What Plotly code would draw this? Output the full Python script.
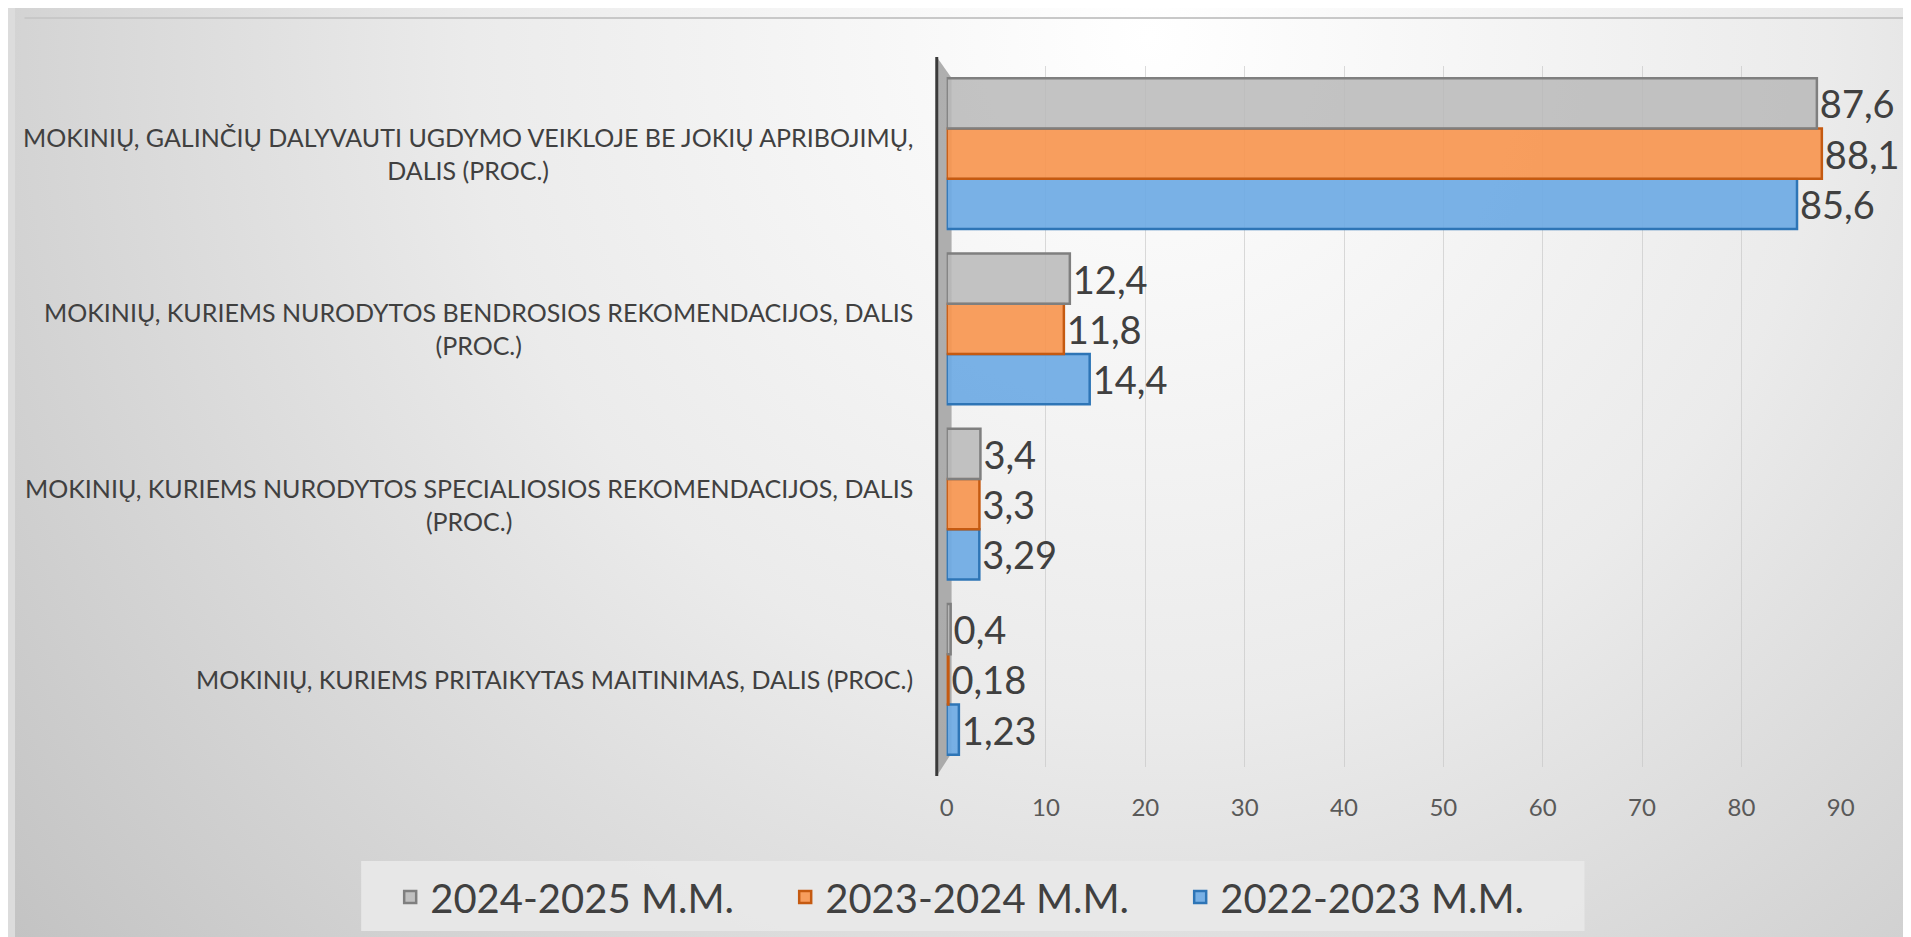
import base64
import plotly.graph_objects as go

categories = [
    "MOKINIŲ, GALINČIŲ DALYVAUTI UGDYMO VEIKLOJE BE JOKIŲ APRIBOJIMŲ,<br>DALIS (PROC.)",
    "MOKINIŲ, KURIEMS NURODYTOS BENDROSIOS REKOMENDACIJOS, DALIS<br>(PROC.)",
    "MOKINIŲ, KURIEMS NURODYTOS SPECIALIOSIOS REKOMENDACIJOS, DALIS<br>(PROC.)",
    "MOKINIŲ, KURIEMS PRITAIKYTAS MAITINIMAS, DALIS (PROC.)",
]
series_names = ["2022-2023 M.M.", "2023-2024 M.M.", "2024-2025 M.M."]
values_2022_2023 = [85.6, 14.4, 3.29, 1.23]
values_2023_2024 = [88.1, 11.8, 3.3, 0.18]
values_2024_2025 = [87.6, 12.4, 3.4, 0.4]
value_labels_2022_2023 = ["85,6", "14,4", "3,29", "1,23"]
value_labels_2023_2024 = ["88,1", "11,8", "3,3", "0,18"]
value_labels_2024_2025 = ["87,6", "12,4", "3,4", "0,4"]
x_ticks = [0, 10, 20, 30, 40, 50, 60, 70, 80, 90]

W, H = 1911, 937
FONT = "Lato, 'Open Sans', sans-serif"
TXT = "#404040"

# background gradient as inline svg
svg = f'''<svg xmlns="http://www.w3.org/2000/svg" width="{W}" height="{H}" viewBox="0 0 {W} {H}" preserveAspectRatio="none">
<defs><radialGradient id="g" cx="0.6" cy="0.03" r="0.8" fx="0.6" fy="0.03" gradientTransform="translate(0.6,0.03) scale(1,2.0) translate(-0.6,-0.03)">
<stop offset="0" stop-color="#ffffff"/><stop offset="0.45" stop-color="#ebebeb"/><stop offset="1" stop-color="#c0c0c0"/>
</radialGradient></defs>
<rect x="0" y="0" width="{W}" height="{H}" fill="url(#g)"/>
</svg>'''
bg_src = "data:image/svg+xml;base64," + base64.b64encode(svg.encode()).decode()

fig = go.Figure()
specs = [
    (series_names[0], values_2022_2023, value_labels_2022_2023, "rgba(110,170,228,0.92)", "#2e75b6"),
    (series_names[1], values_2023_2024, value_labels_2023_2024, "rgba(247,150,80,0.92)", "#c55a11"),
    (series_names[2], values_2024_2025, value_labels_2024_2025, "rgba(185,185,185,0.85)", "#7f7f7f"),
]
for name, vals, labs, fill, line in specs:
    fig.add_trace(go.Bar(
        y=categories, x=vals, name=name, orientation="h",
        marker=dict(color=fill, line=dict(color=line, width=2.5)),
        text=labs, textposition="outside", cliponaxis=False,
        textfont=dict(family=FONT, size=38, color=TXT),
        constraintext="none",
    ))

x0, x1 = 942 / W, 1846 / W
y0, y1 = 1 - 759 / H, 1 - 58 / H

for c in categories:
    fig.add_annotation(
        x=910 / W, xref="paper", y=c, yref="y", text=c, showarrow=False,
        xanchor="right", yanchor="middle", align="center",
        font=dict(family=FONT, size=25, color=TXT),
    )

fig.update_layout(
    width=W, height=H,
    margin=dict(l=0, r=0, t=0, b=0),
    paper_bgcolor="#dcdcdc",
    plot_bgcolor="rgba(0,0,0,0)",
    barmode="group", bargap=0.14, bargroupgap=0,
    images=[dict(source=bg_src, xref="paper", yref="paper", x=0, y=1,
                 sizex=1, sizey=1, sizing="stretch", layer="below",
                 xanchor="left", yanchor="top")],
    xaxis=dict(domain=[x0, x1], range=[0, 90], tickvals=x_ticks,
               showgrid=True, gridcolor="rgba(195,195,195,0.6)", gridwidth=1,
               zeroline=False, showline=False, ticks="",
               tickfont=dict(family=FONT, size=24, color="#595959"),
               ticklabelstandoff=24),
    yaxis=dict(domain=[y0, y1], categoryorder="array",
               categoryarray=categories[::-1], showticklabels=False,
               showline=False, showgrid=False, zeroline=False, ticks=""),
    legend=dict(orientation="h", traceorder="reversed",
                x=0.512, xanchor="center", y=1 - 889 / H, yanchor="middle",
                bgcolor="rgba(0,0,0,0)", entrywidth=350,
                font=dict(family=FONT, size=40, color=TXT)),
    shapes=[
        dict(type="rect", xref="paper", yref="paper",
             x0=350 / W, x1=1587 / W, y0=1 - 923 / H, y1=1 - 853 / H,
             fillcolor="rgba(232,232,232,0.95)", line=dict(width=0), layer="below"),
        dict(type="path", xref="paper", yref="paper",
             path=f"M {932/W} {1-49/H} L {947/W} {1-70/H} L {947/W} {1-745/H} L {932/W} {1-768/H} Z",
             fillcolor="rgba(150,150,150,0.75)", line=dict(width=0), layer="below"),
        dict(type="line", xref="paper", yref="paper",
             x0=932 / W, x1=932 / W, y0=1 - 768 / H, y1=1 - 49 / H,
             line=dict(color="#3a3a3a", width=3)),
        dict(type="line", xref="paper", yref="paper",
             x0=0.005, x1=1, y0=1 - 10 / H, y1=1 - 10 / H,
             line=dict(color="#c8c8c8", width=2)),
    ],
    showlegend=True,
)

fig.write_html("out.html")
